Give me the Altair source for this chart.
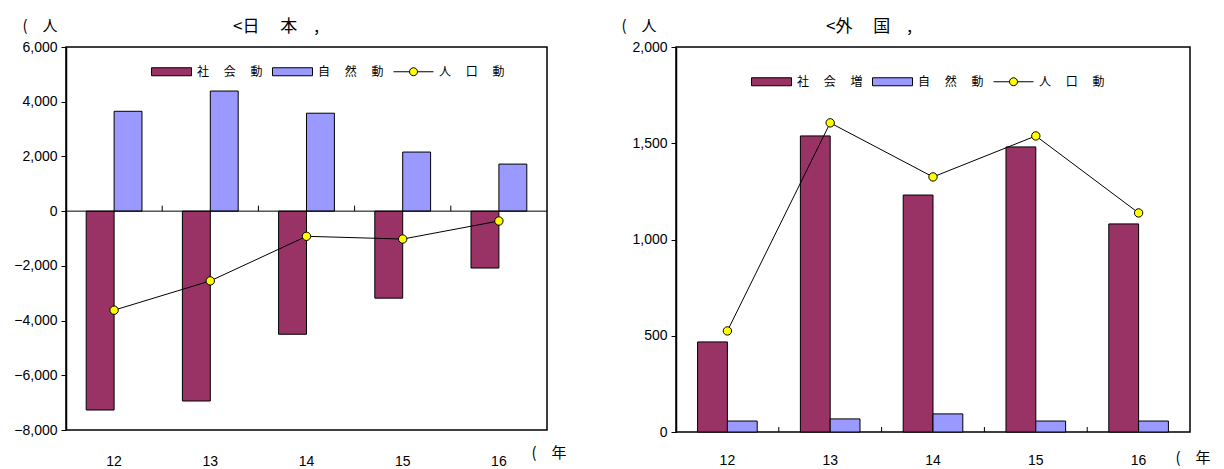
import altair as alt
import pandas as pd

years = ["12", "13", "14", "15", "16"]

jp_social = [-7270, -6940, -4500, -3180, -2080]
jp_natural = [3650, 4390, 3580, 2160, 1720]
jp_total = [-3620, -2550, -920, -1020, -360]

fr_social = [468, 1538, 1231, 1481, 1081]
fr_natural = [57, 68, 94, 57, 57]
fr_total = [525, 1606, 1325, 1538, 1138]

jp_labels = ["社　 会　 動", "自　 然　 動", "人　 口　 動"]
fr_labels = ["社　 会　 増", "自　 然　 動", "人　 口　 動"]

jp_ticks = [6000, 4000, 2000, 0, -2000, -4000, -6000, -8000]
fr_ticks = [0, 500, 1000, 1500, 2000]

COLORS = ["#993366", "#9999FF", "#FFFF00"]
RECT = "M-1,-0.2H1V0.2H-1Z"
LINESYM = "M-1,0H-0.2M0.2,0H1M-0.2,0A0.2,0.2,0,1,1,0.2,0A0.2,0.2,0,1,1,-0.2,0Z"

JFONT = "Noto Sans CJK JP"
NFONT = "Liberation Sans"
PAD_IN = 0.42
PAD_OUT = 0.21


def panel(social, natural, total, labels, ticks, ydom, title, w, h,
          title_dx, legx, legy, xtitle_x, xtitle_y, ytitle_x, zero_rule, tick_len,
          label_pad):
    bars = pd.DataFrame({
        "year": years * 2,
        "series": [labels[0]] * 5 + [labels[1]] * 5,
        "value": social + natural,
    })
    line = pd.DataFrame({"year": years, "value": total})
    legdf = pd.DataFrame({"series": labels})
    tickdf = pd.DataFrame({"year": years[:4], "y0": [0] * 4, "y1": [tick_len] * 4})
    step = w / (len(years) - PAD_IN + 2 * PAD_OUT)

    xscale = alt.Scale(domain=years, paddingInner=PAD_IN, paddingOuter=PAD_OUT)
    xaxis = alt.Axis(title="(　年", titleAngle=0, titleAlign="left",
                     titleBaseline="middle", titleX=xtitle_x, titleY=xtitle_y,
                     titleFont=JFONT, titleFontSize=15, titleFontWeight="normal",
                     titleColor="black",
                     labelAngle=0, ticks=False, domain=False, labelPadding=label_pad,
                     labelFont=NFONT, labelFontSize=14, labelColor="black")
    yscale = alt.Scale(domain=ydom, nice=False, zero=False)
    yaxis = alt.Axis(values=ticks, format=",d", grid=False, tickSize=5,
                     tickColor="black", domainColor="black", domainWidth=1.5,
                     labelFont=NFONT, labelFontSize=14, labelColor="black",
                     labelPadding=4,
                     title="(　人", titleAngle=0, titleAlign="left",
                     titleBaseline="middle", titleX=ytitle_x, titleY=-22,
                     titleFont=JFONT, titleFontSize=15, titleFontWeight="normal",
                     titleColor="black")
    legend = alt.Legend(orient="none", legendX=legx, legendY=legy,
                        direction="horizontal", title=None, symbolSize=1600,
                        labelFont=JFONT, labelFontSize=12, labelColor="black",
                        symbolStrokeWidth=1, symbolOpacity=1,
                        columnPadding=7, labelOffset=5)
    fill = alt.Fill("series:N", scale=alt.Scale(domain=labels, range=COLORS),
                    legend=legend)

    bar_layer = alt.Chart(bars).mark_bar(stroke="black", strokeWidth=1).encode(
        x=alt.X("year:N", scale=xscale, axis=xaxis),
        xOffset=alt.XOffset("series:N", scale=alt.Scale(domain=labels[:2], paddingInner=0)),
        y=alt.Y("value:Q", scale=yscale, axis=yaxis),
        fill=fill,
    )
    leg_layer = alt.Chart(legdf).transform_filter("false").mark_point(
        filled=True).encode(
        fill=fill,
        stroke=alt.Stroke("series:N", scale=alt.Scale(domain=labels, range=["black"] * 3),
                          legend=legend),
        shape=alt.Shape("series:N", scale=alt.Scale(domain=labels, range=[RECT, RECT, LINESYM]),
                        legend=legend),
    )
    line_layer = alt.Chart(line).mark_line(color="black", strokeWidth=1).encode(
        x=alt.X("year:N", scale=xscale, axis=xaxis),
        y=alt.Y("value:Q", scale=yscale, axis=yaxis),
    )
    pt_layer = alt.Chart(line).mark_point(filled=True, fill="#FFFF00", stroke="black",
                                          strokeWidth=1, size=70, opacity=1,
                                          shape="circle").encode(
        x=alt.X("year:N", scale=xscale, axis=xaxis),
        y=alt.Y("value:Q", scale=yscale, axis=yaxis),
    )
    tick_layer = alt.Chart(tickdf).mark_rule(
        color="black", strokeWidth=1, xOffset=step * PAD_IN / 2).encode(
        x=alt.X("year:N", scale=xscale, axis=xaxis, bandPosition=1),
        y=alt.Y("y0:Q", scale=yscale, axis=yaxis),
        y2="y1:Q",
    )
    layers = [bar_layer]
    if zero_rule:
        zdf = pd.DataFrame({"v": [0]})
        layers.append(alt.Chart(zdf).mark_rule(color="black", strokeWidth=1).encode(
            y=alt.Y("v:Q", scale=yscale, axis=yaxis)))
    layers += [tick_layer, line_layer, pt_layer, leg_layer]
    return alt.layer(*layers).properties(
        width=w, height=h,
        view=alt.ViewBackground(stroke="black", strokeWidth=1.5),
        title=alt.TitleParams(title, anchor="start", frame="group", dx=title_dx,
                              offset=-18, font=JFONT, fontSize=17,
                              fontWeight="normal", color="black"),
    )


left = panel(jp_social, jp_natural, jp_total, jp_labels, jp_ticks, [-8000, 6000],
             "<日　 本　,", 481, 383, 167, 85, 4, 465, 22, -44, True, 200, 24)
right = panel(fr_social, fr_natural, fr_total, fr_labels, fr_ticks, [0, 2000],
              "<外　 国　,", 514, 385, 150, 75, 14, 499, 25, -55, False, 26, 21)

chart = alt.hconcat(left, right, spacing=53).resolve_scale(
    x="independent", y="independent", fill="independent", shape="independent",
    stroke="independent", xOffset="independent"
).resolve_legend(fill="independent", shape="independent", stroke="independent").properties(
    padding={"left": 5, "top": 9, "right": 5, "bottom": 5}
).configure(font=NFONT).configure_view(stroke="black", strokeWidth=1.5)

chart.save("out.html", embed_options={"renderer": "svg", "actions": False})
